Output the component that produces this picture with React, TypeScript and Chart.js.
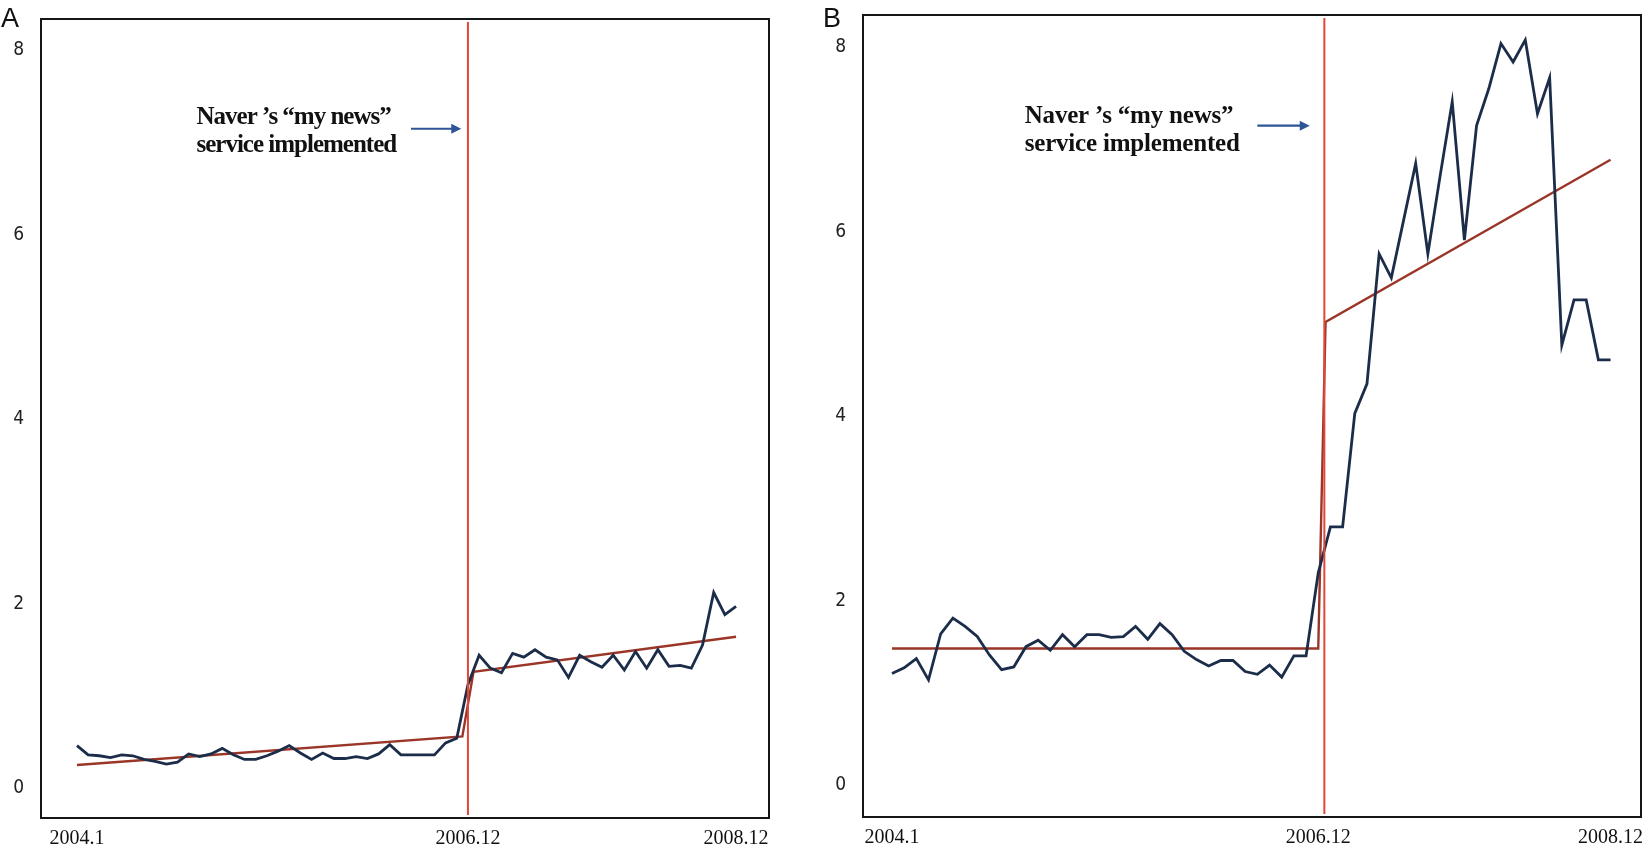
import React, { useEffect, useRef } from "react";
import { Chart, registerables } from "chart.js";

Chart.register(...registerables);

// ---------- data ----------
const xTickValues = [0, 35, 59];
const xTickLabels = ["2004.1", "2006.12", "2008.12"];
const yTickValues = [0, 2, 4, 6, 8];

// Panel A: monthly series 2004.1 .. 2008.12
const seriesA = [
  0.46, 0.36, 0.35, 0.33, 0.36, 0.35, 0.31, 0.29, 0.26, 0.28,
  0.37, 0.34, 0.37, 0.43, 0.36, 0.31, 0.31, 0.35, 0.40, 0.46,
  0.38, 0.31, 0.38, 0.32, 0.32, 0.34, 0.32, 0.37, 0.47, 0.36,
  0.36, 0.36, 0.36, 0.49, 0.54, 1.12, 1.44, 1.30, 1.25, 1.46,
  1.42, 1.50, 1.42, 1.39, 1.20, 1.44, 1.37, 1.31, 1.44, 1.28,
  1.48, 1.30, 1.50, 1.32, 1.33, 1.30, 1.55, 2.12, 1.88, 1.97,
];
const trendAX = [0, 34.5, 35.5, 59];
const trendAY = [0.25, 0.56, 1.26, 1.64];
const breakA = 35;

// Panel B: monthly series 2004.1 .. 2008.12
const seriesB = [
  1.21, 1.27, 1.37, 1.14, 1.64, 1.81, 1.72, 1.61, 1.41, 1.25,
  1.28, 1.50, 1.57, 1.46, 1.63, 1.50, 1.63, 1.63, 1.60, 1.61,
  1.72, 1.58, 1.75, 1.63, 1.45, 1.36, 1.29, 1.35, 1.35, 1.23,
  1.20, 1.30, 1.17, 1.40, 1.40, 2.30, 2.80, 2.80, 4.03, 4.35,
  5.76, 5.50, 6.12, 6.74, 5.76, 6.60, 7.41, 5.91, 7.15, 7.55,
  8.04, 7.84, 8.08, 7.28, 7.67, 4.77, 5.26, 5.26, 4.61, 4.61,
];
const trendBX = [0, 35, 35.6, 59];
const trendBY = [1.48, 1.48, 5.02, 6.78];
const breakB = 35.5;

const annotationLines = ["Naver \u2019s \u201cmy news\u201d", "service implemented"];

// ---------- styles ----------
const BLUE = "#1c2d4a";
const TREND = "#9a3527";
const REDLINE = "#e0473a";
const ARROW = "#2f5597";

type Panel = {
  letter: string;
  left: number;
  width: number;
  padTop: number;
  padRight: number;
  xAxisH: number;
  xMin: number;
  xMax: number;
  yMin: number;
  yMax: number;
  series: number[];
  trendX: number[];
  trendY: number[];
  breakX: number;
  textX: number;
  textY: number;
  arrowFrom: number;
  arrowTo: number;
  arrowY: number;
  letterSpacing: number;
};

const panels: Panel[] = [
  {
    letter: "A", left: 0, width: 820, padTop: 19, padRight: 51, xAxisH: 36,
    xMin: -3.22, xMax: 61.95, yMin: -0.325, yMax: 8.34,
    series: seriesA, trendX: trendAX, trendY: trendAY, breakX: breakA,
    textX: 10.7, textY: 7.2, arrowFrom: 29.9, arrowTo: 34.4, arrowY: 7.15, letterSpacing: -1,
  },
  {
    letter: "B", left: 822, width: 820, padTop: 15, padRight: 1, xAxisH: 37,
    xMin: -2.38, xMax: 61.5, yMin: -0.347, yMax: 8.35,
    series: seriesB, trendX: trendBX, trendY: trendBY, breakX: breakB,
    textX: 10.9, textY: 7.18, arrowFrom: 30.0, arrowTo: 34.3, arrowY: 7.15, letterSpacing: -0.2,
  },
];

function PanelChart({ p }: { p: Panel }) {
  const ref = useRef<HTMLCanvasElement | null>(null);
  useEffect(() => {
    const canvas = ref.current;
    if (!canvas) return;
    const deco = {
      id: "deco" + p.letter,
      afterDatasetsDraw(chart: any) {
        const { ctx, chartArea, scales } = chart;
        const xs = scales.x, ys = scales.y;
        ctx.save();
        // break line
        const bx = xs.getPixelForValue(p.breakX);
        ctx.strokeStyle = REDLINE;
        ctx.lineWidth = 2;
        ctx.beginPath();
        ctx.moveTo(bx, chartArea.top + 3);
        ctx.lineTo(bx, chartArea.bottom - 3);
        ctx.stroke();
        // frame
        ctx.strokeStyle = "#161616";
        ctx.lineWidth = 2;
        ctx.strokeRect(chartArea.left, chartArea.top, chartArea.right - chartArea.left, chartArea.bottom - chartArea.top);
        // annotation text
        ctx.fillStyle = "#111";
        ctx.font = 'bold 25px "Liberation Serif", "Times New Roman", serif';
        (ctx as any).letterSpacing = p.letterSpacing + "px";
        ctx.textBaseline = "alphabetic";
        ctx.textAlign = "left";
        const tx = xs.getPixelForValue(p.textX);
        const ty = ys.getPixelForValue(p.textY);
        ctx.fillText(annotationLines[0], tx, ty);
        ctx.fillText(annotationLines[1], tx, ty + 28);
        (ctx as any).letterSpacing = "0px";
        // arrow
        const ax1 = xs.getPixelForValue(p.arrowFrom);
        const ax2 = xs.getPixelForValue(p.arrowTo);
        const ay = ys.getPixelForValue(p.arrowY);
        ctx.strokeStyle = ARROW;
        ctx.fillStyle = ARROW;
        ctx.lineWidth = 2.2;
        ctx.beginPath();
        ctx.moveTo(ax1, ay);
        ctx.lineTo(ax2 - 8, ay);
        ctx.stroke();
        ctx.beginPath();
        ctx.moveTo(ax2, ay);
        ctx.lineTo(ax2 - 10, ay - 5);
        ctx.lineTo(ax2 - 10, ay + 5);
        ctx.closePath();
        ctx.fill();
        // panel letter
        ctx.fillStyle = "#111";
        ctx.font = '27px "Liberation Sans", "DejaVu Sans", sans-serif';
        ctx.fillText(p.letter, 1, 27);
        ctx.restore();
      },
    };

    const chart = new Chart(canvas, {
      type: "line",
      data: {
        datasets: [
          {
            data: p.series.map((v, i) => ({ x: i, y: v })),
            borderColor: BLUE,
            borderWidth: 2.8,
            pointRadius: 0,
            tension: 0,
          },
          {
            data: p.trendX.map((x, k) => ({ x, y: p.trendY[k] })),
            borderColor: TREND,
            borderWidth: 2.4,
            pointRadius: 0,
            tension: 0,
          },
        ],
      },
      options: {
        responsive: false,
        animation: false,
        events: [],
        layout: { padding: { top: p.padTop, right: p.padRight, left: 0, bottom: 0 } },
        plugins: { legend: { display: false }, tooltip: { enabled: false } },
        scales: {
          x: {
            type: "linear",
            min: p.xMin,
            max: p.xMax,
            grid: { display: false, drawTicks: false },
            border: { display: false },
            afterBuildTicks: (s: any) => {
              s.ticks = xTickValues.map((v) => ({ value: v }));
            },
            afterFit: (s: any) => {
              s.height = p.xAxisH;
              s.paddingLeft = 0;
              s.paddingRight = 0;
            },
            ticks: {
              autoSkip: false,
              maxRotation: 0,
              padding: 9,
              color: "#111",
              font: { family: '"Liberation Serif", "Times New Roman", serif', size: 20 },
              callback: (v: any) => {
                const k = xTickValues.indexOf(Number(v));
                return k >= 0 ? xTickLabels[k] : "";
              },
            },
          },
          y: {
            type: "linear",
            min: p.yMin,
            max: p.yMax,
            grid: { display: false, drawTicks: false },
            border: { display: false },
            afterBuildTicks: (s: any) => {
              s.ticks = yTickValues.map((v) => ({ value: v }));
            },
            afterFit: (s: any) => {
              s.width = 41;
              s.paddingTop = 0;
              s.paddingBottom = 0;
            },
            ticks: {
              padding: 17,
              color: "#222",
              font: { family: '"Liberation Sans Narrow", "DejaVu Sans Condensed", "Liberation Sans", sans-serif', size: 19 },
              callback: (v: any) => String(v),
            },
          },
        },
      },
      plugins: [deco],
    } as any);
    return () => chart.destroy();
  }, [p]);

  return (
    <canvas
      ref={ref}
      width={p.width}
      height={854}
      style={{ position: "absolute", left: p.left, top: 0, width: p.width, height: 854 }}
    />
  );
}

export default function App() {
  useEffect(() => {
    document.body.style.margin = "0";
    document.body.style.background = "#fff";
  }, []);
  return (
    <div style={{ position: "relative", width: 1642, height: 854, background: "#fff", overflow: "hidden" }}>
      {panels.map((p) => (
        <PanelChart key={p.letter} p={p} />
      ))}
    </div>
  );
}
